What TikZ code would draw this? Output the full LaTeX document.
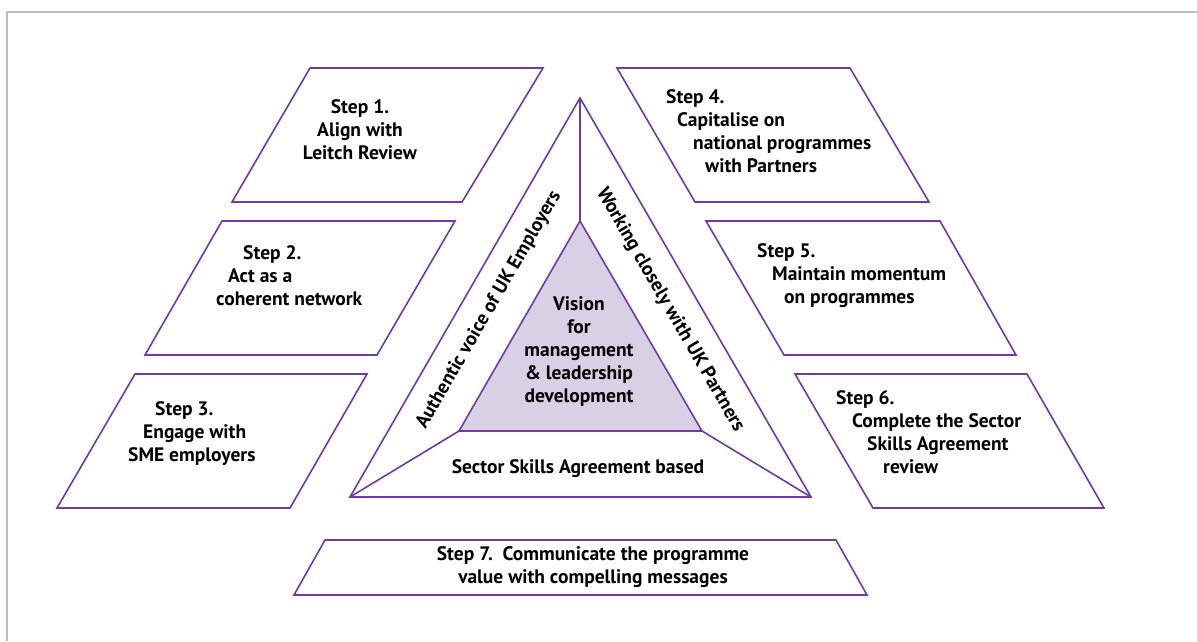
\documentclass[tikz,border=0pt]{standalone}
\usepackage{fontspec}
\setmainfont{PT Sans}
\usepackage{xcolor}
\usepackage{tikz}
\usetikzlibrary{positioning}
\definecolor{StepPurple}{RGB}{112,58,160}
\definecolor{VisionLilac}{RGB}{216,208,228}
\definecolor{FrameGray}{RGB}{190,190,190}

\begin{document}
\begin{tikzpicture}[x=1pt, y=-1pt,
        % Style for the step boxes
        stepbox/.style={
            draw=StepPurple,
            line width=1.6pt,
            fill=white
        },
        % Style for the triangle lines
        edge/.style={
            draw=StepPurple,
            line width=1.6pt
        },
        % Style for the step texts
        steptext/.style={
            font=\bfseries\fontsize{19.5}{23}\selectfont,
            inner sep=0pt,
            align=left,
            anchor=west
        },
        % Style for the centred texts
        midtext/.style={
            font=\bfseries\fontsize{19.5}{23}\selectfont,
            inner sep=0pt,
            align=center
        }
    ]

        \useasboundingbox (0,0) rectangle (1197,641);

        % --- 1. FRAME ---
        \draw[FrameGray, line width=1.5pt] (7,641) -- (7,12) -- (1197,12);

        % --- 2. STEP BOXES ---
        % Left column
        \draw[stepbox] (310,68) -- (543,68) -- (462,202) -- (232,202) -- cycle;
        \draw[stepbox] (222,221) -- (455,221) -- (377,355) -- (145,355) -- cycle;
        \draw[stepbox] (135,374) -- (367,374) -- (290,508) -- (57,508) -- cycle;

        % Right column
        \draw[stepbox] (617,68) -- (850,68) -- (929,202) -- (695,202) -- cycle;
        \draw[stepbox] (706,221) -- (940,221) -- (1016,355) -- (784,355) -- cycle;
        \draw[stepbox] (795,374) -- (1027,374) -- (1104,508) -- (873,508) -- cycle;

        % Bottom
        \draw[stepbox] (325,540) -- (836,540) -- (867,595) -- (294,595) -- cycle;

        % --- 3. TRIANGLE ---
        \coordinate (oA) at (580,98);
        \coordinate (oL) at (350,497);
        \coordinate (oR) at (811,497);
        \coordinate (iA) at (580,221);
        \coordinate (iL) at (459,431);
        \coordinate (iR) at (702,431);

        \draw[edge, fill=white] (oA) -- (oR) -- (oL) -- cycle;
        \draw[edge, fill=VisionLilac] (iA) -- (iR) -- (iL) -- cycle;
        \draw[edge] (oA) -- (iA);
        \draw[edge] (oL) -- (iL);
        \draw[edge] (oR) -- (iR);

        % --- 4. TEXTS ---
        \node[midtext] (s1) at (360,130) {Step 1.\\Align with\\Leitch Review};
        \node[steptext] (s2) at (216,276) {\hspace*{27pt}Step 2.\\\hspace*{12pt}Act as a\\coherent network};
        \node[steptext] (s3) at (128,434) {\hspace*{27pt}Step 3.\\\hspace*{15pt}Engage with\\SME employers};

        \node[steptext] (s4) at (666,131) {Step 4.\\\hspace*{11pt}Capitalise on\\\hspace*{27pt}national programmes\\\hspace*{39pt}with Partners};
        \node[steptext] (s5) at (757,276) {Step 5.\\\hspace*{15pt}Maintain momentum\\\hspace*{27pt}on programmes};
        \node[steptext] (s6) at (836,432) {Step 6.\\\hspace*{16pt}Complete the Sector\\\hspace*{31pt}Skills Agreement\\\hspace*{47pt}review};

        \node[midtext] (s7) at (593,567) {Step 7.\ \ Communicate the programme\\value with compelling messages};

        \node[midtext] (vision) at (579,352) {Vision\\for\\management\\\&~leadership\\development};
        \node[midtext] (ssa) at (578,469) {Sector Skills Agreement based};

        \node[midtext, rotate=60] (voice) at (489,310) {Authentic voice of UK Employers};
        \node[midtext, rotate=-60] (partners) at (670,310) {Working closely with UK Partners};

    \end{tikzpicture}
\end{document}
